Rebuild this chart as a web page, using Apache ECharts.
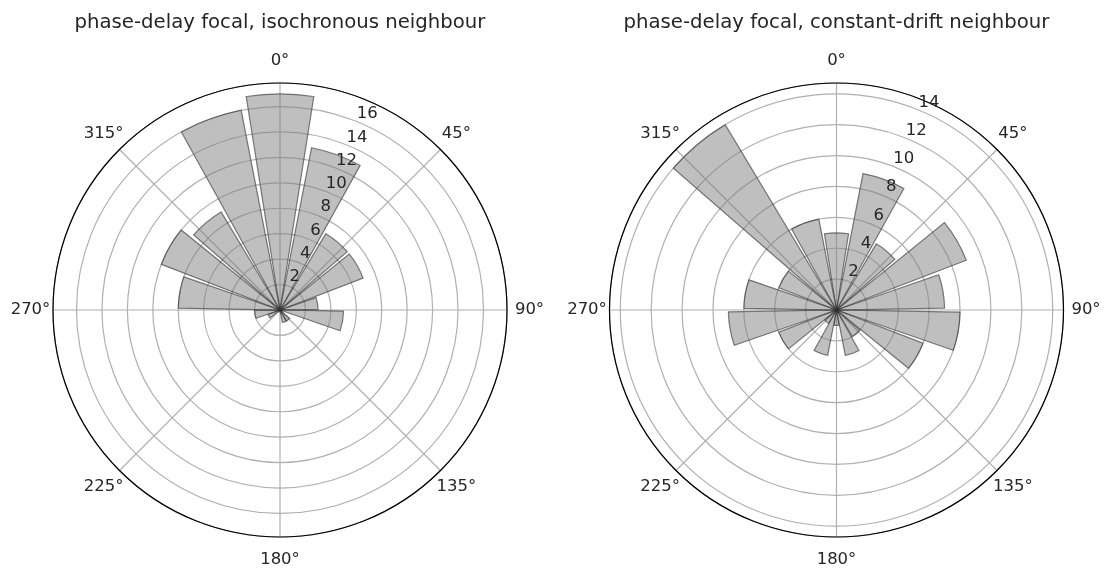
<!DOCTYPE html>
<html><head><meta charset="utf-8">
<script src="https://cdn.jsdelivr.net/npm/echarts@6/dist/echarts.min.js"></script>
<style>html,body{margin:0;padding:0;background:#fff}#c{width:1106px;height:568px}</style>
</head><body><div id="c"></div>
<script>
// ---- data ----
const binCenters = [0, 20, 40, 60, 80, 100, 120, 140, 160, 180, 200, 220, 240, 260, 280, 300, 320, 340];
const leftTitle = 'phase-delay focal, isochronous neighbour';
const rightTitle = 'phase-delay focal, constant-drift neighbour';
const leftCounts = [17, 13, 7, 7, 3, 5, 0, 1, 1, 0, 0, 0, 1, 2, 8, 10, 9, 16];
const rightCounts = [5, 9, 5, 9, 7, 8, 6, 2, 3, 1, 3, 1, 4, 7, 6, 4, 14, 6];
const leftRMax = 17.85;
const rightRMax = 14.7;
const radialStep = 2;
const angleTicks = [0, 45, 90, 135, 180, 225, 270, 315];

// ---- styling / layout ----
const FONT = 'DejaVu Sans';
const TXT = '#262626';
const GRID = '#b0b0b0';
const R = 227, CY = 310;
const LABEL_SIZE = 16.5;
const LABEL_OFF = 22.5; // distance from circle to label centre
const DIAG = LABEL_OFF * Math.SQRT2;

const option = { animation: false, title: [], polar: [], angleAxis: [], radiusAxis: [], series: [] };

function panel(i, cx, title, counts, rmax) {
  const g = 3 * i, b = 3 * i + 1, l = 3 * i + 2;
  option.title.push({
    text: title, left: cx, top: 13, textAlign: 'center', padding: 0,
    textStyle: { fontSize: 19.7, fontWeight: 'normal', color: TXT, fontFamily: FONT }
  });
  option.polar.push({ center: [cx, CY], radius: R });
  option.polar.push({ center: [cx, CY], radius: R });
  option.polar.push({ center: [cx, CY], radius: [11, R + 11] });
  // grid polar
  option.angleAxis.push({
    polarIndex: g, type: 'value', min: 0, max: 360, interval: 45, startAngle: 90, clockwise: true,
    axisLine: { show: true, lineStyle: { color: '#000', width: 1.2 } },
    axisTick: { show: false },
    axisLabel: {
      show: true, margin: 0,
      formatter: v => (angleTicks.indexOf(v) >= 0 ? (v % 90 === 0 ? '{c|' : '{d|') + v + '°}' : ''),
      color: TXT, fontSize: LABEL_SIZE, fontFamily: FONT,
      rich: {
        c: { width: 2 * LABEL_OFF, height: 2 * LABEL_OFF, lineHeight: 2 * LABEL_OFF, align: 'center', verticalAlign: 'middle',
             color: TXT, fontSize: LABEL_SIZE, fontFamily: FONT },
        d: { width: DIAG, height: DIAG, lineHeight: DIAG, align: 'center', verticalAlign: 'middle',
             color: TXT, fontSize: LABEL_SIZE, fontFamily: FONT }
      }
    },
    splitLine: { show: true, lineStyle: { color: GRID, width: 1.2 } },
    z: 1
  });
  option.radiusAxis.push({
    polarIndex: g, type: 'value', min: 0, max: rmax, interval: radialStep,
    axisLine: { show: false }, axisTick: { show: false }, axisLabel: { show: false },
    splitLine: { show: true, lineStyle: { color: GRID, width: 1.2 } }, z: 0
  });
  // bar polar
  option.angleAxis.push({
    polarIndex: b, type: 'category', data: binCenters.map(String), startAngle: 100, clockwise: true,
    axisLine: { show: false }, axisTick: { show: false }, axisLabel: { show: false }, splitLine: { show: false }
  });
  option.radiusAxis.push({
    polarIndex: b, type: 'value', min: 0, max: rmax,
    axisLine: { show: false }, axisTick: { show: false }, axisLabel: { show: false }, splitLine: { show: false }
  });
  option.series.push({
    type: 'bar', coordinateSystem: 'polar', polarIndex: b, data: counts, barCategoryGap: '10%',
    itemStyle: { color: 'rgba(128,128,128,0.5)', borderColor: 'rgba(45,45,45,0.6)', borderWidth: 1.2 },
    silent: true, z: 2
  });
  // radial label polar
  option.angleAxis.push({
    polarIndex: l, type: 'value', min: 0, max: 360, startAngle: 66, clockwise: true,
    axisLine: { show: false }, axisTick: { show: false }, axisLabel: { show: false }, splitLine: { show: false }
  });
  option.radiusAxis.push({
    polarIndex: l, type: 'value', min: 0, max: rmax, interval: radialStep,
    axisLine: { show: false }, axisTick: { show: false }, splitLine: { show: false },
    axisLabel: {
      show: true, margin: 0, align: 'center', verticalAlign: 'middle', rotate: 0,
      formatter: v => (v > 0 && v % radialStep === 0 && v < rmax ? String(v) : ''),
      color: TXT, fontSize: LABEL_SIZE, fontFamily: FONT
    },
    z: 10
  });
}

panel(0, 280, leftTitle, leftCounts, leftRMax);
panel(1, 836.5, rightTitle, rightCounts, rightRMax);

const chart = echarts.init(document.getElementById('c'), null, { renderer: 'canvas' });
chart.setOption(option);
</script>
</body></html>
